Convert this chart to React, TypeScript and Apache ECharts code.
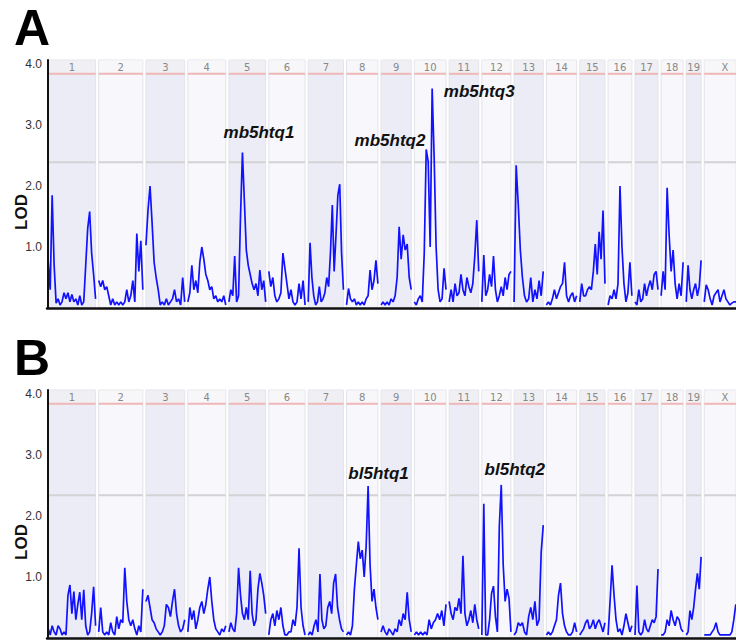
import React, { useEffect, useRef } from 'react';
import * as echarts from 'echarts';

// ---- data ----
const chromosomes = ['1','2','3','4','5','6','7','8','9','10','11','12','13','14','15','16','17','18','19','X'];
const chrLengthsMb = [195.5, 182.1, 160.0, 156.5, 151.8, 149.7, 145.4, 129.4, 124.6, 130.7, 122.1, 120.1, 120.4, 124.9, 104.0, 98.2, 94.9, 90.7, 61.4, 171.0];

// Panel A LOD trace, evenly spaced along each chromosome
const lodA: number[][] = [
  [0.76,0.3,1.85,0.7,0.08,0.15,0.05,0.1,0.25,0.15,0.25,0.1,0.22,0.1,0.15,0.05,0.2,0.05,0.1,0.7,1.3,1.58,0.9,0.55,0.15],
  [0.45,0.35,0.45,0.3,0.35,0.2,0.05,0.15,0.05,0.1,0.05,0.1,0.05,0.1,0.3,0.1,0.2,0.45,0.1,1.22,0.6,1.1,0.3],
  [1.03,1.6,2.0,1.4,0.75,0.5,0.3,0.05,0.1,0.05,0.15,0.05,0.1,0.15,0.3,0.1,0.15,0.05,0.5,0.1],
  [0.1,0.25,0.7,0.3,0.45,0.25,0.75,1.0,0.8,0.55,0.45,0.3,0.35,0.15,0.2,0.1,0.15,0.1,0.2,0.05],
  [0.1,0.3,0.2,0.85,0.1,0.2,1.5,2.55,1.75,0.95,0.7,0.55,0.4,0.3,0.4,0.2,0.62,0.3,0.45,0.1],
  [0.6,0.35,0.5,0.2,0.1,0.15,0.25,0.9,0.65,0.4,0.15,0.3,0.1,0.05,0.1,0.4,0.15,0.45,0.05],
  [0.1,1.07,0.5,0.2,0.05,0.1,0.35,0.1,0.15,0.25,0.5,0.35,0.9,1.69,0.6,1.2,1.85,2.03,0.9,0.3],
  [0.05,0.32,0.15,0.1,0.15,0.05,0.1,0.05,0.1,0.05,0.15,0.2,0.62,0.3,0.45,0.78,0.4],
  [0.05,0.1,0.05,0.1,0.05,0.15,0.1,0.2,0.5,1.33,0.8,1.2,0.95,1.05,0.5,0.3],
  [0.1,0.05,0.15,0.2,0.1,0.9,2.6,2.4,1.0,3.6,2.48,1.0,0.3,0.1,0.15,0.65,0.3],
  [0.1,0.3,0.1,0.4,0.2,0.25,0.55,0.3,0.2,0.5,0.35,0.25,0.4,0.85,1.44,0.6],
  [0.1,0.87,0.2,0.3,0.55,0.35,0.85,0.3,0.1,0.2,0.35,0.2,0.5,0.3,0.55,0.6],
  [0.1,2.34,1.7,0.95,0.5,0.2,0.1,0.15,0.5,0.1,0.3,0.15,0.45,0.2,0.6],
  [0.05,0.1,0.05,0.15,0.3,0.15,0.25,0.35,0.4,0.75,0.2,0.1,0.2,0.25,0.1,0.2],
  [0.1,0.4,0.2,0.2,0.3,0.35,0.3,0.6,1.05,0.55,1.25,0.8,1.6,0.4],
  [0.05,0.2,0.15,0.3,0.15,0.4,2.0,1.0,0.4,0.1,0.25,0.75,0.2],
  [0.1,0.05,0.3,0.1,0.15,0.4,0.2,0.35,0.45,0.3,0.55,0.6,0.3],
  [0.2,0.6,0.3,1.97,1.2,0.6,0.95,0.4,0.15,0.4,0.2,0.75],
  [0.1,0.7,0.3,0.15,0.3,0.4,0.2,0.35,0.78],
  [0.1,0.38,0.3,0.15,0.05,0.2,0.25,0.3,0.1,0.2,0.3,0.15,0.1,0.05,0.08,0.1,0.1,0.1,0.05,0.1,0.05,0.1],
];

// Panel B LOD trace
const lodB: number[][] = [
  [0.15,0.05,0.2,0.1,0.05,0.2,0.15,0.05,0.1,0.05,0.7,0.87,0.4,0.76,0.3,0.55,0.75,0.3,0.79,0.2,0.05,0.1,0.4,0.84,0.2],
  [0.1,0.5,0.1,0.05,0.1,0.05,0.25,0.1,0.05,0.35,0.15,0.3,0.25,1.15,0.6,0.3,0.2,0.3,0.15,0.05,0.2,0.1,0.8],
  [0.6,0.7,0.5,0.3,0.25,0.15,0.1,0.05,0.1,0.2,0.55,0.5,0.35,0.6,0.8,0.4,0.2,0.1,0.15,0.3],
  [0.1,0.5,0.3,0.45,0.15,0.3,0.5,0.6,0.4,0.55,0.8,1.0,0.6,0.3,0.15,0.1,0.05,0.15,0.1,0.2],
  [0.1,0.25,0.15,0.1,0.4,1.15,0.7,0.4,0.3,0.5,0.3,1.1,0.4,0.2,0.3,0.8,1.06,0.9,0.7,0.4],
  [0.05,0.3,0.4,0.2,0.45,0.3,0.5,0.2,0.05,0.05,0.1,0.1,0.3,0.2,0.5,1.47,0.5,0.2,0.05],
  [0.05,0.1,0.05,0.2,0.3,0.1,1.05,0.3,0.15,0.2,0.5,0.6,0.4,0.9,1.05,0.5,0.3,0.15,0.1],
  [0.05,0.1,0.05,0.2,0.8,1.2,1.58,1.3,1.44,1.0,1.5,2.49,1.2,0.6,0.8,0.5,0.3],
  [0.1,0.2,0.1,0.05,0.15,0.1,0.05,0.15,0.1,0.3,0.2,0.4,0.3,0.75,0.3,0.1],
  [0.05,0.1,0.05,0.1,0.05,0.1,0.05,0.3,0.15,0.25,0.3,0.4,0.3,0.45,0.2,0.55],
  [0.6,0.4,0.3,0.5,0.45,0.65,0.4,1.35,0.4,0.2,0.3,0.45,0.25,0.55,0.3,0.15],
  [0.05,2.2,0.05,0.05,0.3,0.73,0.85,0.35,0.1,1.83,2.51,1.2,0.6,0.8,0.65,0.1],
  [0.05,0.1,0.25,0.2,0.25,0.1,0.05,0.35,0.5,0.3,0.6,0.2,0.3,1.4,1.85],
  [0.05,0.1,0.05,0.1,0.2,0.3,0.7,0.9,0.4,0.2,0.1,0.05,0.05,0.1,0.25,0.1],
  [0.05,0.1,0.15,0.25,0.3,0.15,0.2,0.3,0.15,0.25,0.3,0.2,0.1,0.25],
  [0.05,0.6,1.19,0.7,0.3,0.1,0.15,0.05,0.2,0.4,0.25,0.1,0.2],
  [0.05,0.86,0.1,0.05,0.1,0.3,0.15,0.1,0.2,0.3,0.25,0.35,1.13],
  [0.05,0.05,0.1,0.3,0.2,0.45,0.3,0.2,0.35,0.3,0.15,0.1],
  [0.05,0.1,0.45,0.3,0.5,0.8,1.06,0.8,1.33],
  [0.05,0.05,0.05,0.05,0.1,0.15,0.25,0.1,0.05,0.05,0.05,0.05,0.05,0.05,0.1,0.3,0.55,0.4,0.3,0.2,0.1,0.1],
];

const significantLod = [3.84, 3.84];
const suggestiveLod = [2.39, 2.34];
const yTickLabels = ['1.0', '2.0', '3.0', '4.0'];

const qtlNames = ['mb5htq1', 'mb5htq2', 'mb5htq3', 'bl5htq1', 'bl5htq2'];
const qtlPanel = [0, 0, 0, 1, 1];
const qtlChr = [4, 8, 10, 7, 11];
const qtlPosMb = [124, 37, 124, 132, 136];
const qtlLabelLod = [2.885, 2.75, 3.55, 2.7, 2.77];

const panelLetters = ['A', 'B'];

// ---- layout constants ----
const GAP_MB = 12.9;
const X_MIN = -5;
const X_MAX = 2838.6;
const Y_MAX = 4.066;
const GRID_TOPS = [60, 390];
const GRID_H = 248;
const GRID_LEFT = 47;

const chrStart: number[] = [];
{
  let acc = 0;
  chrLengthsMb.forEach((len) => {
    chrStart.push(acc);
    acc += len + GAP_MB;
  });
}

function traceData(lods: number[][]) {
  const out: any[] = [];
  lods.forEach((vals, c) => {
    const s = chrStart[c];
    const len = chrLengthsMb[c];
    vals.forEach((v, i) => out.push([s + (i / (vals.length - 1)) * len, v]));
    out.push([s + len + GAP_MB / 2, null]);
  });
  return out;
}

function bandData(p: number) {
  return chromosomes.map((_, c) => [chrStart[c], chrStart[c] + chrLengthsMb[c], c, significantLod[p], suggestiveLod[p]]);
}

function renderBand(params: any, api: any) {
  const s = api.value(0);
  const e = api.value(1);
  const idx = api.value(2);
  const sig = api.value(3);
  const sug = api.value(4);
  const cs = params.coordSys;
  const p0 = api.coord([s, 0]);
  const p1 = api.coord([e, 0]);
  const left = Math.max(p0[0], cs.x);
  const right = Math.min(p1[0], cs.x + cs.width);
  const top = cs.y;
  const bottom = cs.y + cs.height;
  const redY = api.coord([s, sig])[1];
  const greyY = api.coord([s, sug])[1];
  const odd = idx % 2 === 0;
  return {
    type: 'group',
    children: [
      {
        type: 'rect',
        shape: { x: left, y: top, width: right - left, height: bottom - top },
        style: { fill: odd ? '#ebecf5' : '#f8f8fc', stroke: '#e3e3e8', lineWidth: 1 },
      },
      {
        type: 'rect',
        shape: { x: left + 0.5, y: top + 0.5, width: right - left - 1, height: redY - top - 1 },
        style: { fill: odd ? '#f0f0f4' : '#f7f7fa' },
      },
      {
        type: 'line',
        shape: { x1: left, y1: redY, x2: right, y2: redY },
        style: { stroke: '#efb7b7', lineWidth: 2 },
      },
      {
        type: 'line',
        shape: { x1: left, y1: greyY, x2: right, y2: greyY },
        style: { stroke: '#d3d3d6', lineWidth: 2 },
      },
      {
        type: 'text',
        style: {
          text: chromosomes[idx],
          x: (p0[0] + p1[0]) / 2,
          y: (top + redY) / 2 + 0.5,
          fill: '#888888',
          font: '10px "DejaVu Sans", Verdana, sans-serif',
          align: 'center',
          verticalAlign: 'middle',
          textAlign: 'center',
          textVerticalAlign: 'middle',
        },
      },
    ],
  };
}

export default function App() {
  const ref = useRef<HTMLDivElement>(null);

  useEffect(() => {
    if (!ref.current) return;
    const chart = echarts.init(ref.current, null, { renderer: 'svg' });

    const panels = [0, 1];
    const option: any = {
      animation: false,
      backgroundColor: '#ffffff',
      grid: panels.map((p) => ({ left: GRID_LEFT, right: 0, top: GRID_TOPS[p], height: GRID_H })),
      xAxis: panels.map((p) => ({
        type: 'value',
        gridIndex: p,
        min: X_MIN,
        max: X_MAX,
        z: 10,
        axisLine: { show: true, onZero: false, lineStyle: { color: '#111', width: 2.5 } },
        axisTick: { show: false },
        axisLabel: { show: false },
        splitLine: { show: false },
      })),
      yAxis: panels.map((p) => ({
        type: 'value',
        gridIndex: p,
        min: 0,
        max: Y_MAX,
        interval: 1,
        z: 10,
        axisLine: { show: true, lineStyle: { color: '#111', width: 2 } },
        axisTick: { show: false },
        splitLine: { show: false },
        axisLabel: {
          margin: 5,
          color: '#333',
          fontSize: 12,
          fontFamily: '"Liberation Sans", Arial, sans-serif',
          formatter: (v: number) => {
            const r = Math.round(v);
            if (Math.abs(v - r) > 1e-6 || r < 1) return '';
            return yTickLabels[r - 1] ?? '';
          },
        },
      })),
      series: [
        ...panels.map((p) => ({
          type: 'custom',
          xAxisIndex: p,
          yAxisIndex: p,
          z: 1,
          silent: true,
          clip: false,
          renderItem: renderBand,
          data: bandData(p),
        })),
        ...panels.map((p) => ({
          type: 'line',
          xAxisIndex: p,
          yAxisIndex: p,
          z: 3,
          silent: true,
          showSymbol: false,
          connectNulls: false,
          lineStyle: { color: '#1212ff', width: 1.7 },
          data: traceData(p === 0 ? lodA : lodB),
          markPoint: {
            symbol: 'circle',
            symbolSize: 1,
            itemStyle: { color: 'rgba(0,0,0,0)' },
            label: {
              show: true,
              position: 'inside',
              color: '#111',
              fontSize: 17,
              fontWeight: 'bold',
              fontStyle: 'italic',
              fontFamily: '"Liberation Sans", Arial, sans-serif',
              formatter: (d: any) => d.name,
            },
            data: qtlNames
              .map((n, i) => ({ n, i }))
              .filter(({ i }) => qtlPanel[i] === p)
              .map(({ n, i }) => ({
                name: n,
                coord: [chrStart[qtlChr[i]] + qtlPosMb[i], qtlLabelLod[i]],
              })),
          },
        })),
      ],
      graphic: [
        ...panels.map((p) => ({
          type: 'text',
          x: 14,
          y: GRID_TOPS[p] - 32.5,
          style: {
            text: panelLetters[p],
            x: 0,
            y: 0,
            fill: '#000',
            font: 'bold 50px "Liberation Sans", Arial, sans-serif',
            lineHeight: 38,
            align: 'left',
            verticalAlign: 'middle',
            textAlign: 'left',
            textVerticalAlign: 'middle',
          },
        })),
        ...panels.map((p) => ({
          type: 'text',
          x: 21,
          y: GRID_TOPS[p] + 152,
          rotation: Math.PI / 2,
          style: {
            text: 'LOD',
            x: 0,
            y: 0,
            fill: '#111',
            font: 'bold 17px "Liberation Sans", Arial, sans-serif',
            align: 'center',
            verticalAlign: 'middle',
            textAlign: 'center',
            textVerticalAlign: 'middle',
          },
        })),
      ],
    };

    chart.setOption(option);
    return () => chart.dispose();
  }, []);

  return (
    <div
      ref={ref}
      style={{ position: 'fixed', left: 0, top: 0, width: 736, height: 642, background: '#fff' }}
    />
  );
}
